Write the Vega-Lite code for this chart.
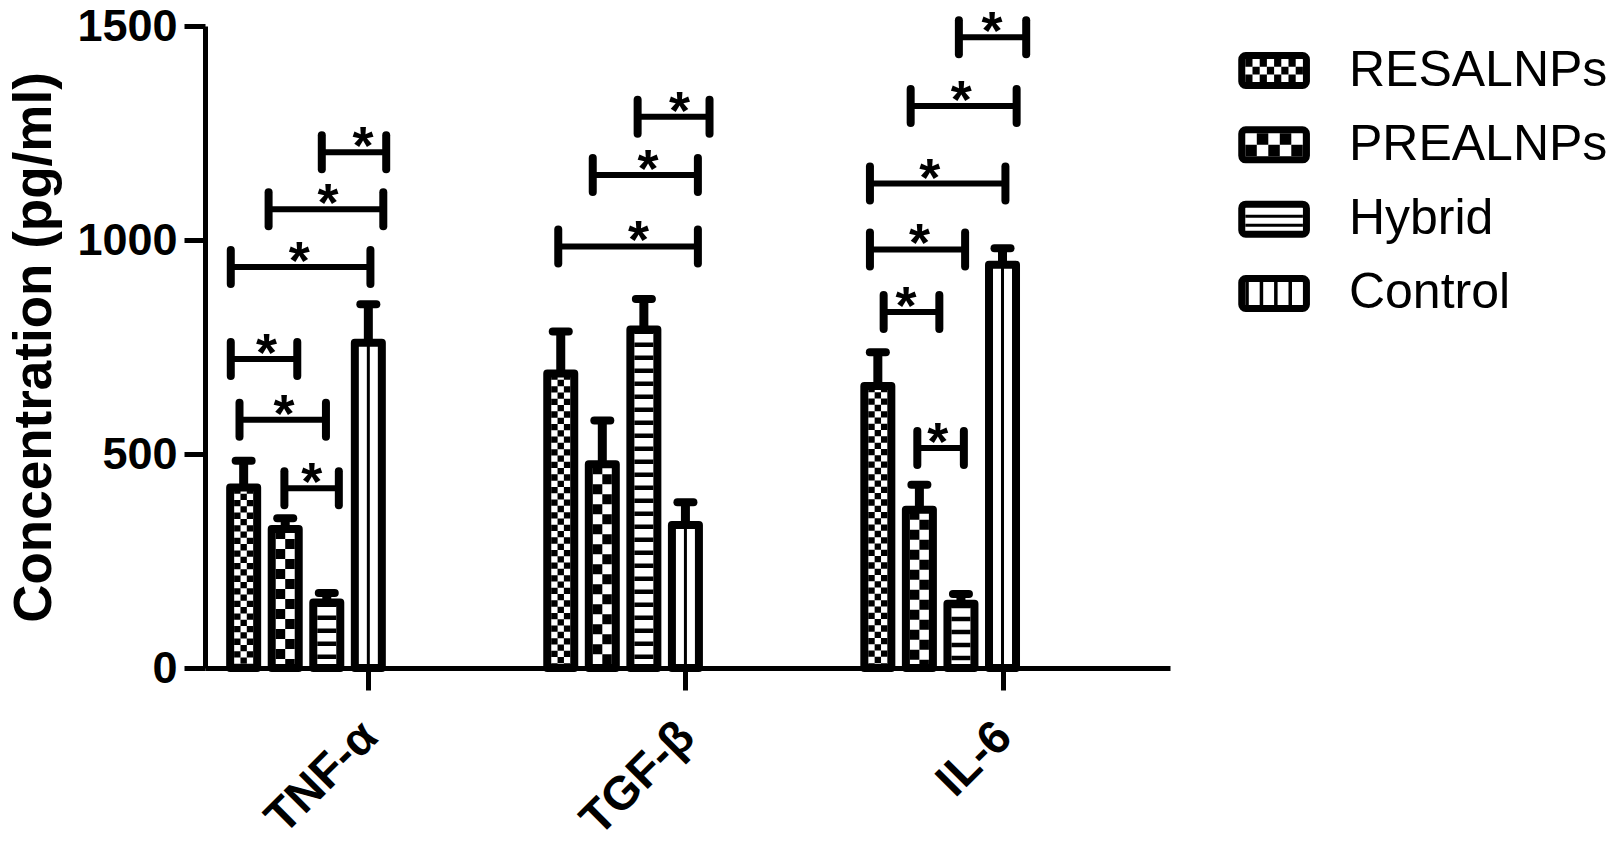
{
  "$schema": "https://vega.github.io/schema/vega-lite/v6.json",
  "padding": {"left": 8, "top": 4, "right": 0, "bottom": 0},
  "spacing": 63,
  "config": {"view": {"stroke": null}, "font": "Liberation Sans"},
  "datasets": {
    "bars": [
      {"cytokine": "TNF-α", "group": "RESALNPs", "pos": 1, "mean": 422, "upper": 484},
      {"cytokine": "TNF-α", "group": "PREALNPs", "pos": 2, "mean": 325, "upper": 350},
      {"cytokine": "TNF-α", "group": "Hybrid", "pos": 3, "mean": 153, "upper": 175},
      {"cytokine": "TNF-α", "group": "Control", "pos": 4, "mean": 760, "upper": 850},
      {"cytokine": "TGF-β", "group": "RESALNPs", "pos": 8.63, "mean": 688, "upper": 786},
      {"cytokine": "TGF-β", "group": "PREALNPs", "pos": 9.63, "mean": 476, "upper": 578},
      {"cytokine": "TGF-β", "group": "Hybrid", "pos": 10.63, "mean": 791, "upper": 862},
      {"cytokine": "TGF-β", "group": "Control", "pos": 11.63, "mean": 334, "upper": 387},
      {"cytokine": "IL-6", "group": "RESALNPs", "pos": 16.26, "mean": 659, "upper": 738},
      {"cytokine": "IL-6", "group": "PREALNPs", "pos": 17.26, "mean": 370, "upper": 428},
      {"cytokine": "IL-6", "group": "Hybrid", "pos": 18.26, "mean": 150, "upper": 173},
      {"cytokine": "IL-6", "group": "Control", "pos": 19.26, "mean": 942, "upper": 981}
    ],
    "sig": [
      {"cytokine": "TNF-α", "xa": 1.98, "xb": 3.29, "xs": 2.64, "y": 420},
      {"cytokine": "TNF-α", "xa": 0.9, "xb": 2.98, "xs": 1.97, "y": 580},
      {"cytokine": "TNF-α", "xa": 0.69, "xb": 2.29, "xs": 1.55, "y": 722},
      {"cytokine": "TNF-α", "xa": 0.69, "xb": 4.05, "xs": 2.34, "y": 937},
      {"cytokine": "TNF-α", "xa": 1.6, "xb": 4.36, "xs": 3.03, "y": 1072},
      {"cytokine": "TNF-α", "xa": 2.88, "xb": 4.43, "xs": 3.87, "y": 1205},
      {"cytokine": "TGF-β", "xa": 8.57, "xb": 11.93, "xs": 10.5, "y": 985},
      {"cytokine": "TGF-β", "xa": 9.4, "xb": 11.93, "xs": 10.73, "y": 1152},
      {"cytokine": "TGF-β", "xa": 10.48, "xb": 12.21, "xs": 11.49, "y": 1288},
      {"cytokine": "IL-6", "xa": 17.21, "xb": 18.33, "xs": 17.7, "y": 514},
      {"cytokine": "IL-6", "xa": 16.4, "xb": 17.74, "xs": 16.94, "y": 832},
      {"cytokine": "IL-6", "xa": 16.07, "xb": 18.36, "xs": 17.26, "y": 978},
      {"cytokine": "IL-6", "xa": 16.07, "xb": 19.33, "xs": 17.51, "y": 1132},
      {"cytokine": "IL-6", "xa": 17.05, "xb": 19.6, "xs": 18.27, "y": 1313},
      {"cytokine": "IL-6", "xa": 18.21, "xb": 19.83, "xs": 19.01, "y": 1474}
    ],
    "legendItems": [
      {"group": "RESALNPs"},
      {"group": "PREALNPs"},
      {"group": "Hybrid"},
      {"group": "Control"}
    ]
  },
  "hconcat": [
    {
      "width": 965,
      "height": 642,
      "layer": [
        {
          "data": {"name": "bars"},
          "mark": {"type": "bar", "orient": "vertical", "size": 27, "fill": "white", "stroke": "black", "strokeWidth": 8, "strokeJoin": "round"},
          "encoding": {
            "x": {"field": "pos", "type": "quantitative",
              "scale": {"domain": [0.19, 23.17], "nice": false, "zero": false},
              "axis": {"values": [4, 11.63, 19.26], "labelExpr": "datum.value < 8 ? 'TNF-α' : datum.value < 15 ? 'TGF-β' : 'IL-6'", "title": null, "labelAngle": -45, "labelFontSize": 47, "labelFontWeight": "bold", "labelColor": "black", "tickSize": 22, "tickWidth": 5, "tickColor": "black", "domainColor": "black", "domainWidth": 5, "labelPadding": 23, "labelOffset": -15, "grid": false, "labelFlush": false, "labelOverlap": false}},
            "y": {"field": "mean", "type": "quantitative",
              "scale": {"domain": [0, 1500], "nice": false},
              "axis": {"values": [0, 500, 1000, 1500], "format": "d", "title": "Concentration (pg/ml)", "titleFontSize": 53, "titleFontWeight": "bold", "titleColor": "black", "titlePadding": 15, "labelFontSize": 45, "labelFontWeight": "bold", "labelColor": "black", "tickSize": 21, "tickWidth": 5, "tickColor": "black", "domainColor": "black", "domainWidth": 5, "labelPadding": 7, "grid": false}}
          }
        },
        {
          "data": {"name": "bars"},
          "transform": [{"filter": "datum.group === 'RESALNPs'"}],
          "mark": {"type": "rule", "color": "black", "strokeWidth": 6.4, "xOffset": -6.33, "strokeDash": [6.3, 6.3]},
          "encoding": {"x": {"field": "pos", "type": "quantitative"}, "y": {"field": "mean", "type": "quantitative"}, "y2": {"datum": 0}}
        },
        {
          "data": {"name": "bars"},
          "transform": [{"filter": "datum.group === 'RESALNPs'"}],
          "mark": {"type": "rule", "color": "black", "strokeWidth": 6.4, "xOffset": 0, "strokeDash": [6.3, 6.3], "strokeDashOffset": 6.3},
          "encoding": {"x": {"field": "pos", "type": "quantitative"}, "y": {"field": "mean", "type": "quantitative"}, "y2": {"datum": 0}}
        },
        {
          "data": {"name": "bars"},
          "transform": [{"filter": "datum.group === 'RESALNPs'"}],
          "mark": {"type": "rule", "color": "black", "strokeWidth": 6.4, "xOffset": 6.33, "strokeDash": [6.3, 6.3]},
          "encoding": {"x": {"field": "pos", "type": "quantitative"}, "y": {"field": "mean", "type": "quantitative"}, "y2": {"datum": 0}}
        },
        {
          "data": {"name": "bars"},
          "transform": [{"filter": "datum.group === 'PREALNPs'"}],
          "mark": {"type": "rule", "color": "black", "strokeWidth": 9.5, "xOffset": -4.75, "strokeDash": [10, 10]},
          "encoding": {"x": {"field": "pos", "type": "quantitative"}, "y": {"field": "mean", "type": "quantitative"}, "y2": {"datum": 0}}
        },
        {
          "data": {"name": "bars"},
          "transform": [{"filter": "datum.group === 'PREALNPs'"}],
          "mark": {"type": "rule", "color": "black", "strokeWidth": 9.5, "xOffset": 4.75, "strokeDash": [10, 10], "strokeDashOffset": 10},
          "encoding": {"x": {"field": "pos", "type": "quantitative"}, "y": {"field": "mean", "type": "quantitative"}, "y2": {"datum": 0}}
        },
        {
          "data": {"name": "bars"},
          "transform": [{"filter": "datum.group === 'Hybrid'"}],
          "mark": {"type": "rule", "color": "black", "strokeWidth": 19, "strokeDash": [4.5, 8.5]},
          "encoding": {"x": {"field": "pos", "type": "quantitative"}, "y": {"field": "mean", "type": "quantitative"}, "y2": {"datum": 0}}
        },
        {
          "data": {"name": "bars"},
          "transform": [{"filter": "datum.group === 'Control'"}],
          "mark": {"type": "rule", "color": "black", "strokeWidth": 3},
          "encoding": {"x": {"field": "pos", "type": "quantitative"}, "y": {"field": "mean", "type": "quantitative"}, "y2": {"datum": 0}}
        },
        {
          "data": {"name": "bars"},
          "mark": {"type": "rule", "color": "black", "strokeWidth": 9},
          "encoding": {"x": {"field": "pos", "type": "quantitative"}, "y": {"field": "mean", "type": "quantitative"}, "y2": {"field": "upper"}}
        },
        {
          "data": {"name": "bars"},
          "mark": {"type": "rule", "color": "black", "strokeWidth": 8, "strokeCap": "round", "xOffset": -8, "x2Offset": 8},
          "encoding": {"x": {"field": "pos", "type": "quantitative"}, "x2": {"field": "pos"}, "y": {"field": "upper", "type": "quantitative"}}
        },
        {
          "data": {"name": "sig"},
          "mark": {"type": "rule", "color": "black", "strokeWidth": 6},
          "encoding": {"x": {"field": "xa", "type": "quantitative"}, "x2": {"field": "xb"}, "y": {"field": "y", "type": "quantitative"}}
        },
        {
          "data": {"name": "sig"},
          "mark": {"type": "rule", "color": "black", "strokeWidth": 8, "strokeCap": "round", "yOffset": -17, "y2Offset": 17},
          "encoding": {"x": {"field": "xa", "type": "quantitative"}, "y": {"field": "y", "type": "quantitative"}, "y2": {"field": "y"}}
        },
        {
          "data": {"name": "sig"},
          "mark": {"type": "rule", "color": "black", "strokeWidth": 8, "strokeCap": "round", "yOffset": -17, "y2Offset": 17},
          "encoding": {"x": {"field": "xb", "type": "quantitative"}, "y": {"field": "y", "type": "quantitative"}, "y2": {"field": "y"}}
        },
        {
          "data": {"name": "sig"},
          "mark": {"type": "text", "text": "*", "fontSize": 54, "fontWeight": "bold", "baseline": "alphabetic", "dy": 12, "color": "black"},
          "encoding": {"x": {"field": "xs", "type": "quantitative"}, "y": {"field": "y", "type": "quantitative"}}
        }
      ]
    },
    {
      "width": 376,
      "height": 312,
      "data": {"name": "legendItems"},
      "encoding": {
        "y": {"field": "group", "type": "nominal", "sort": ["RESALNPs", "PREALNPs", "Hybrid", "Control"], "axis": null, "scale": {"paddingInner": 0, "paddingOuter": 0.1}}
      },
      "layer": [
        {
          "mark": {"type": "bar", "orient": "horizontal", "height": 30, "fill": "white", "stroke": "black", "strokeWidth": 7, "cornerRadius": 4},
          "encoding": {"x": {"datum": 1, "type": "quantitative", "scale": {"domain": [0, 100], "nice": false}, "axis": null}, "x2": {"datum": 18.2}}
        },
        {
          "transform": [{"filter": "datum.group === 'RESALNPs'"}],
          "mark": {"type": "rule", "color": "black", "strokeWidth": 7.7, "yOffset": -7.7, "strokeDash": [7.2, 7.2]},
          "encoding": {"x": {"datum": 1.94, "type": "quantitative", "axis": null}, "x2": {"datum": 17.26}}
        },
        {
          "transform": [{"filter": "datum.group === 'RESALNPs'"}],
          "mark": {"type": "rule", "color": "black", "strokeWidth": 7.7, "yOffset": 0, "strokeDash": [7.2, 7.2], "strokeDashOffset": 7.2},
          "encoding": {"x": {"datum": 1.94, "type": "quantitative", "axis": null}, "x2": {"datum": 17.26}}
        },
        {
          "transform": [{"filter": "datum.group === 'RESALNPs'"}],
          "mark": {"type": "rule", "color": "black", "strokeWidth": 7.7, "yOffset": 7.7, "strokeDash": [7.2, 7.2]},
          "encoding": {"x": {"datum": 1.94, "type": "quantitative", "axis": null}, "x2": {"datum": 17.26}}
        },
        {
          "transform": [{"filter": "datum.group === 'PREALNPs'"}],
          "mark": {"type": "rule", "color": "black", "strokeWidth": 11.5, "yOffset": -5.75, "strokeDash": [11.5, 11.5], "strokeDashOffset": 11.5},
          "encoding": {"x": {"datum": 1.94, "type": "quantitative", "axis": null}, "x2": {"datum": 17.26}}
        },
        {
          "transform": [{"filter": "datum.group === 'PREALNPs'"}],
          "mark": {"type": "rule", "color": "black", "strokeWidth": 11.5, "yOffset": 5.75, "strokeDash": [11.5, 11.5]},
          "encoding": {"x": {"datum": 1.94, "type": "quantitative", "axis": null}, "x2": {"datum": 17.26}}
        },
        {
          "transform": [{"filter": "datum.group === 'Hybrid'"}],
          "mark": {"type": "rule", "color": "black", "strokeWidth": 3, "yOffset": -3},
          "encoding": {"x": {"datum": 1.94, "type": "quantitative", "axis": null}, "x2": {"datum": 17.26}}
        },
        {
          "transform": [{"filter": "datum.group === 'Hybrid'"}],
          "mark": {"type": "rule", "color": "black", "strokeWidth": 3, "yOffset": 6},
          "encoding": {"x": {"datum": 1.94, "type": "quantitative", "axis": null}, "x2": {"datum": 17.26}}
        },
        {
          "transform": [{"filter": "datum.group === 'Control'"}],
          "mark": {"type": "rule", "color": "black", "strokeWidth": 23, "strokeDash": [3.5, 10.9]},
          "encoding": {"x": {"datum": 1.94, "type": "quantitative", "axis": null}, "x2": {"datum": 17.26}}
        },
        {
          "mark": {"type": "text", "align": "left", "baseline": "middle", "fontSize": 50, "color": "black", "dy": 0},
          "encoding": {"x": {"datum": 29.5, "type": "quantitative", "axis": null}, "text": {"field": "group"}}
        }
      ]
    }
  ]
}
